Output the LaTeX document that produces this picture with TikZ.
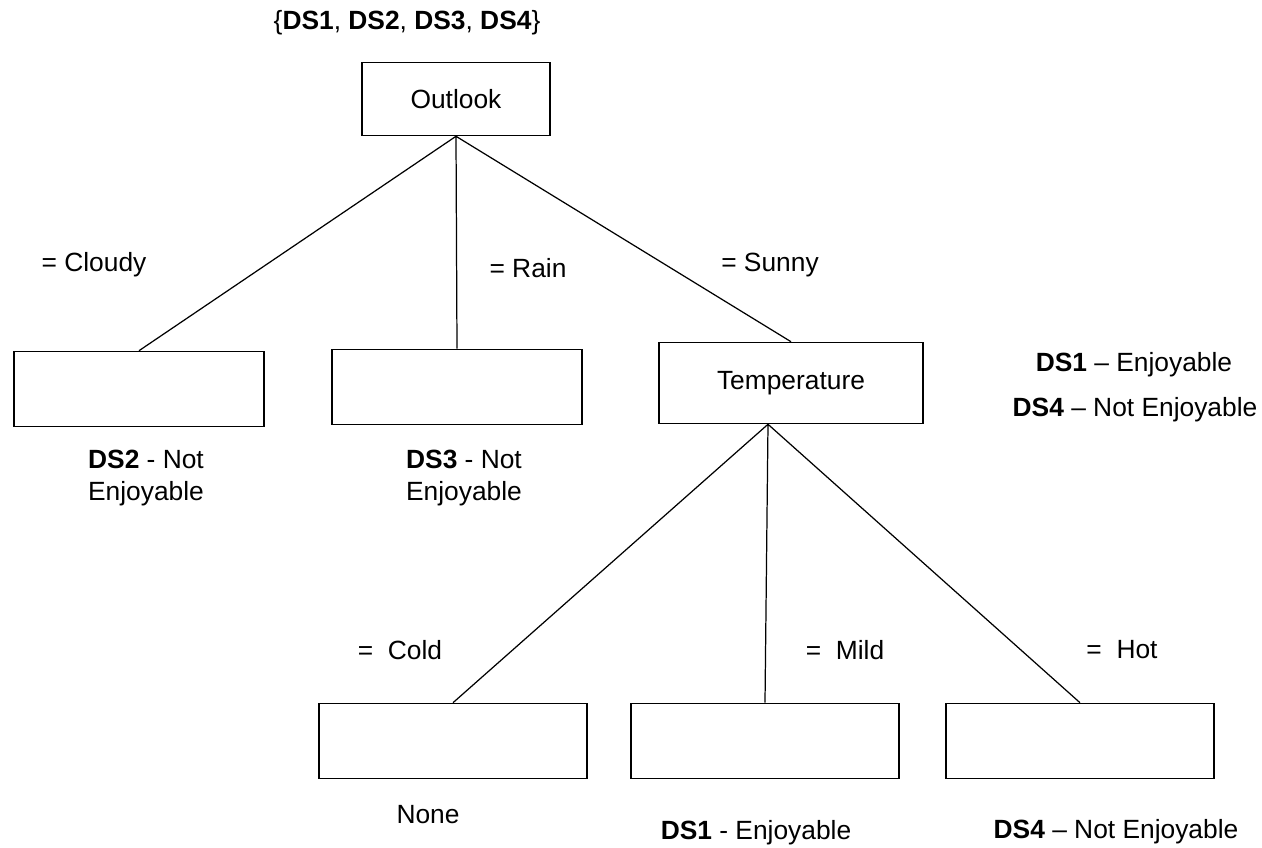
\documentclass[tikz,border=0pt]{standalone}
\usepackage{fontspec}
\setmainfont{Liberation Sans}

\begin{document}
\begin{tikzpicture}[x=0.02cm, y=-0.02cm, line width=0.7pt,
    font=\fontsize{15}{18}\selectfont,
    box/.style={rectangle, draw, line width=0.9pt, minimum width=5cm, minimum height=1.5cm}]
  \useasboundingbox (0,0) rectangle (1262,848);
  \path node (outlook) at (456,99)  [box, minimum width=3.76cm, minimum height=1.46cm] {Outlook}
        node (set)     at (407,23)  {\{\textbf{DS1}, \textbf{DS2}, \textbf{DS3}, \textbf{DS4}\}}
        %
        node (cloudy)  at (139,389) [box] {}
        node (rain)    at (457,387) [box] {}
        node (temp)    at (791,383) [box, minimum width=5.28cm, minimum height=1.62cm] {Temperature}
        node (cloudyl) at (94,265)  {= Cloudy}
        node (rainl)   at (528,268) {= Rain}
        node (sunnyl)  at (770,265) {= Sunny}
        node (cloudyr) at (146,478) [align=center] {\textbf{DS2} - Not\\Enjoyable}
        node (rainr)   at (464,478) [align=center] {\textbf{DS3} - Not\\Enjoyable}
        node (sunny1)  at (1134,365) {\textbf{DS1} -- Enjoyable}
        node (sunny4)  at (1135,410) {\textbf{DS4} -- Not Enjoyable}
        %
        node (cold)    at (453,741) [box, minimum width=5.36cm] {}
        node (mild)    at (765,741) [box, minimum width=5.36cm] {}
        node (hot)     at (1080,741) [box, minimum width=5.36cm] {}
        node (coldl)   at (400,650) {=~~Cold}
        node (mildl)   at (845,650) {=~~Mild}
        node (hotl)    at (1122,650) {=~~Hot}
        node (coldr)   at (428,815) {None}
        node (mildr)   at (756,833) {\textbf{DS1} - Enjoyable}
        node (hotr)    at (1116,832) {\textbf{DS4} -- Not Enjoyable};
  \coordinate (top) at (outlook.south);
  \coordinate (mid) at (temp.south -| 768,0);
  \draw (top) -- (cloudy.north)
        (top) -- (rain.north)
        (top) -- (temp.north)
        %
        (mid) -- (cold.north)
        (mid) -- (mild.north)
        (mid) -- (hot.north);
\end{tikzpicture}
\end{document}
